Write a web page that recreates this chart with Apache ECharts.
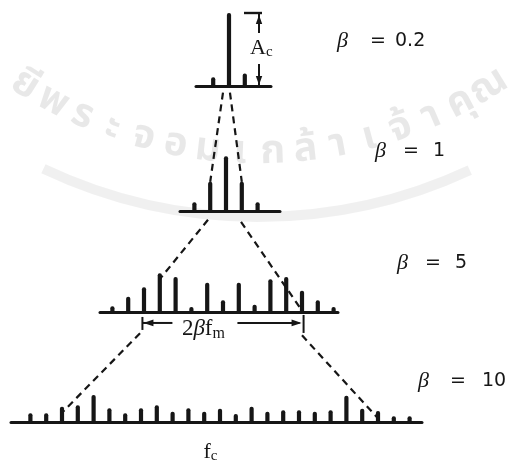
<!DOCTYPE html>
<html>
<head>
<meta charset="utf-8">
<script src="https://cdn.jsdelivr.net/npm/echarts@6/dist/echarts.min.js"></script>
<style>
  html, body { margin: 0; padding: 0; background: #ffffff; }
  #chart { width: 520px; height: 466px; }
</style>
</head>
<body>
<div id="chart"></div>
<script>
// FM spectra: line n sits at fc + n*fm, amplitude given in units of the carrier Ac.
const betaValues = ['0.2', '1', '5', '10'];

const harmonics02 = [-1, 0, 1];
const amplitudes02 = [0.12, 1.00, 0.17];

const harmonics1 = [-2, -1, 0, 1, 2];
const amplitudes1 = [0.12, 0.40, 0.75, 0.40, 0.12];

const harmonics5 = [-7, -6, -5, -4, -3, -2, -1, 0, 1, 2, 3, 4, 5, 6, 7];
const amplitudes5 = [0.08, 0.21, 0.34, 0.53, 0.48, 0.07, 0.40, 0.16, 0.40, 0.10, 0.45, 0.48, 0.29, 0.16, 0.07];

const harmonics10 = [-12, -11, -10, -9, -8, -7, -6, -5, -4, -3, -2, -1, 0, 1, 2, 3, 4, 5, 6, 7, 8, 9, 10, 11, 12];
const amplitudes10 = [0.12, 0.12, 0.21, 0.23, 0.37, 0.19, 0.12, 0.19, 0.23, 0.14, 0.19, 0.14, 0.18, 0.11, 0.21, 0.14, 0.16, 0.16, 0.14, 0.16, 0.36, 0.18, 0.15, 0.08, 0.08];

// faint library stamp behind the figure
const stampText = ['ยี', 'พ', 'ร', 'ะ', 'จ', 'อ', 'ม', 'เ', 'ก', 'ล้', 'า', 'เ', 'จ้', 'า', 'คุ', 'ณ'];

const spectra = [
  { harm: harmonics02, amp: amplitudes02 },
  { harm: harmonics1,  amp: amplitudes1 },
  { harm: harmonics5,  amp: amplitudes5 },
  { harm: harmonics10, amp: amplitudes10 }
];

// layout: pixels per fm and per Ac, baseline placement of each spectrum
const PX_FM = 15.8;
const PX_AC = 73;
const H = 80;
const INK = '#161616';
const layout = [
  { base: 86,  x0: 196, x1: 271, fc: 229 },
  { base: 211, x0: 180, x1: 280, fc: 226 },
  { base: 312, x0: 100, x1: 338, fc: 223 },
  { base: 422, x0: 11,  x1: 422, fc: 220 }
];

const chart = echarts.init(document.getElementById('chart'), null, { renderer: 'canvas' });

chart.setOption({
  animation: false,
  backgroundColor: '#ffffff',
  grid: layout.map(g => ({ left: g.x0, top: g.base - H, width: g.x1 - g.x0, height: H })),
  xAxis: layout.map((g, i) => ({
    type: 'value', gridIndex: i,
    min: (g.x0 - g.fc) / PX_FM, max: (g.x1 - g.fc) / PX_FM,
    axisLine: { show: true, onZero: false, lineStyle: { color: INK, width: 3 } },
    axisTick: { show: false }, axisLabel: { show: false }, splitLine: { show: false }
  })),
  yAxis: layout.map((g, i) => ({
    type: 'value', gridIndex: i, min: 0, max: H / PX_AC, show: false,
    splitLine: { show: false }
  })),
  series: spectra.map((s, i) => ({
    type: 'bar', xAxisIndex: i, yAxisIndex: i, silent: true, z: 5,
    barWidth: 4.2,
    itemStyle: { color: INK, borderRadius: [2, 2, 0, 0] },
    data: s.harm.map((n, k) => [n, s.amp[k]])
  }))
});

const P = (g, x, y) => chart.convertToPixel({ gridIndex: g }, [x, y]);

function dashed(a, b) {
  return { type: 'line', silent: true, z: 10,
    shape: { x1: a[0], y1: a[1], x2: b[0], y2: b[1] },
    style: { stroke: INK, lineWidth: 2.2, lineDash: [7, 5] } };
}
function seg(a, b, w) {
  return { type: 'line', silent: true, z: 10,
    shape: { x1: a[0], y1: a[1], x2: b[0], y2: b[1] },
    style: { stroke: INK, lineWidth: w || 2 } };
}
function head(tip, dx, dy, len, half) {
  // filled arrowhead pointing along (dx, dy)
  const bx = tip[0] - dx * len, by = tip[1] - dy * len;
  return { type: 'polygon', silent: true, z: 10,
    shape: { points: [tip, [bx - dy * half, by + dx * half], [bx + dy * half, by - dx * half]] },
    style: { fill: INK } };
}

const g = [];

// stamp: arc of lettering and a curved band, very light
const cx = 258, cy = -285, R = 440;
const a0 = Math.atan2(90 - cy, 22 - cx), a1 = Math.atan2(92 - cy, 492 - cx);
stampText.forEach((ch, i) => {
  const a = a0 + (a1 - a0) * i / (stampText.length - 1);
  g.push({ type: 'text', silent: true, z: 0,
    x: cx + R * Math.cos(a), y: cy + R * Math.sin(a),
    rotation: Math.PI / 2 - a,
    style: { text: ch, x: 0, y: 0, align: 'center', verticalAlign: 'middle',
      fontFamily: 'Noto Sans Thai, Noto Sans, sans-serif', fontSize: 40, fontWeight: 'bold',
      fill: 'rgba(0,0,0,0.09)' } });
});
g.push({ type: 'arc', silent: true, z: 0,
  shape: { cx: cx, cy: cy, r: R + 62, startAngle: a1 + 0.12, endAngle: a0 - 0.12, clockwise: true },
  style: { stroke: 'rgba(0,0,0,0.06)', lineWidth: 10, fill: null } });

// guide lines showing the spread of the sidebands as beta grows
g.push(dashed(P(0, -0.38, -0.09), P(1, -1, amplitudes1[1])));
g.push(dashed(P(0, 0.06, -0.09), P(1, 1, amplitudes1[3])));
g.push(dashed(P(1, -1.14, -0.12), P(2, -4, 0.45)));
g.push(dashed(P(1, 0.95, -0.15), P(2, 5.06, 0)));
g.push(dashed(P(2, -5.25, -0.29), P(3, -9.94, 0.14)));
g.push(dashed(P(2, 5.0, -0.32), P(3, 10.0, 0.05)));

// carrier amplitude marker Ac
const acX = 1.9;
const acTop = P(0, acX, amplitudes02[1]);
const acBot = P(0, acX, 0);
g.push(seg(P(0, 0.95, amplitudes02[1]), P(0, 2.09, amplitudes02[1]), 2.4));
g.push(seg(acTop, [acTop[0], acTop[1] + 20], 2));
g.push(seg([acBot[0], acBot[1] - 22], acBot, 2));
g.push(head([acTop[0], acTop[1] + 2], 0, -1, 9, 3.2));
g.push(head([acBot[0], acBot[1] - 1], 0, 1, 9, 3.2));
g.push({ type: 'text', silent: true, z: 11,
  style: { x: acTop[0] - 9, y: P(0, acX, 0.52)[1], verticalAlign: 'middle', align: 'left',
    text: '{a|A}{s|c}',
    rich: {
      a: { fontFamily: 'Liberation Serif', fontSize: 22, fill: INK },
      s: { fontFamily: 'Liberation Serif', fontSize: 15, fill: INK, padding: [9, 0, 0, 0] }
    } } });

// bandwidth marker 2*beta*fm under the beta = 5 spectrum
const bwL = P(2, -5.1, -0.15), bwR = P(2, 5.1, -0.15);
g.push(seg([bwL[0], bwL[1] - 6], [bwL[0], bwL[1] + 7], 2));
g.push(seg([bwR[0], bwR[1] - 8], [bwR[0], bwR[1] + 10], 2));
g.push(seg(bwL, [bwL[0] + 30, bwL[1]], 2));
g.push(seg([bwL[0] + 95, bwR[1]], [bwR[0] - 4, bwR[1]], 2));
g.push(head([bwL[0] + 1, bwL[1]], -1, 0, 10, 3.4));
g.push(head([bwR[0] - 2, bwR[1]], 1, 0, 10, 3.4));
g.push({ type: 'text', silent: true, z: 11,
  style: { x: bwL[0] + 61, y: bwL[1] + 6, align: 'center', verticalAlign: 'middle',
    text: '{n|2}{b|β}{n|f}{s|m}',
    rich: {
      n: { fontFamily: 'Liberation Serif', fontSize: 23, fill: INK },
      b: { fontFamily: 'Liberation Serif', fontStyle: 'italic', fontSize: 23, fill: INK },
      s: { fontFamily: 'Liberation Serif', fontSize: 16, fill: INK, padding: [9, 0, 0, 0] }
    } } });

// carrier frequency label
const fcPos = P(3, -0.6, 0);
g.push({ type: 'text', silent: true, z: 11,
  style: { x: fcPos[0], y: fcPos[1] + 30, align: 'center', verticalAlign: 'middle',
    text: '{f|f}{s|c}',
    rich: {
      f: { fontFamily: 'Liberation Serif', fontSize: 22, fill: INK },
      s: { fontFamily: 'Liberation Serif', fontSize: 15, fill: INK, padding: [8, 0, 0, 0] }
    } } });

// modulation index labels
const betaPos = [[337, 41], [375, 151], [397, 263], [418, 381]];
const eqGap = [33, 28, 28, 32];
const valGap = [58, 58, 58, 64];
betaValues.forEach((v, i) => {
  const [x, y] = betaPos[i];
  g.push({ type: 'text', silent: true, z: 11,
    style: { x: x, y: y, text: 'β', align: 'left', verticalAlign: 'middle',
      fontFamily: 'Liberation Serif', fontStyle: 'italic', fontSize: 22, fill: INK } });
  g.push({ type: 'text', silent: true, z: 11,
    style: { x: x + eqGap[i], y: y, text: '=', align: 'left', verticalAlign: 'middle',
      fontFamily: 'DejaVu Sans', fontSize: 19, fill: INK } });
  g.push({ type: 'text', silent: true, z: 11,
    style: { x: x + valGap[i], y: y, text: v, align: 'left', verticalAlign: 'middle',
      fontFamily: 'DejaVu Sans', fontSize: 19, fill: INK } });
});

chart.setOption({ graphic: g });
</script>
</body>
</html>
